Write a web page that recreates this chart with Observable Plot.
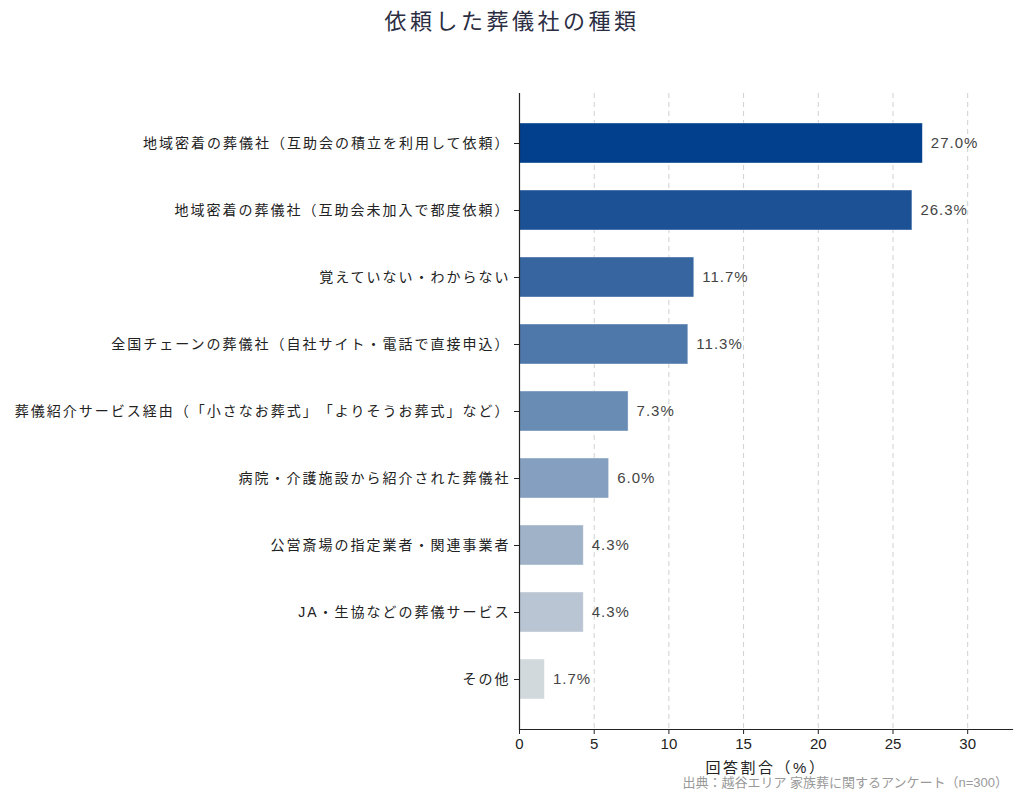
<!DOCTYPE html>
<html>
<head>
<meta charset="utf-8">
<script src="https://cdn.jsdelivr.net/npm/d3@7"></script>
<script src="https://cdn.jsdelivr.net/npm/@observablehq/plot@0.6"></script>
<style>
  body { margin: 0; background: #fff; font-family: "Liberation Sans", "Noto Sans CJK JP", sans-serif; text-spacing-trim: space-all; }
  #wrap { position: relative; width: 1024px; height: 800px; }
  #title { position: absolute; left: 0; width: 1024px; top: 3px; text-align: center; font-size: 22px; letter-spacing: 3.5px; color: #2b2d42; font-family: "Noto Sans CJK JP", sans-serif; }
  #chart { position: absolute; left: 0; top: 45px; }
  #caption { position: absolute; right: 16px; top: 772px; font-size: 13px; color: #999; }
  svg text { text-spacing-trim: space-all; }
  [aria-label="y-axis tick label"] text { letter-spacing: 2px; }
  [aria-label="x-axis label"] text { letter-spacing: 2.5px; }
  .vals text { letter-spacing: 1px; }
</style>
</head>
<body>
<div id="wrap">
  <div id="title">依頼した葬儀社の種類</div>
  <div id="chart"></div>
  <div id="caption">出典：越谷エリア 家族葬に関するアンケート（n=300）</div>
</div>
<script>
const categories = [
  "地域密着の葬儀社（互助会の積立を利用して依頼）",
  "地域密着の葬儀社（互助会未加入で都度依頼）",
  "覚えていない・わからない",
  "全国チェーンの葬儀社（自社サイト・電話で直接申込）",
  "葬儀紹介サービス経由（「小さなお葬式」「よりそうお葬式」など）",
  "病院・介護施設から紹介された葬儀社",
  "公営斎場の指定業者・関連事業者",
  "JA・生協などの葬儀サービス",
  "その他"
];
const values = [27.0, 26.3, 11.7, 11.3, 7.3, 6.0, 4.3, 4.3, 1.7];
const colors = ["#023f8c", "#1c5196", "#3665a0", "#4f78aa", "#698cb5", "#849fbf", "#9fb2c8", "#b9c5d2", "#d2d9dd"];
const xTicks = [0, 5, 10, 15, 20, 25, 30];

const data = categories.map((c, i) => ({cat: c, value: values[i], color: colors[i]}));

const chart = Plot.plot({
  width: 1024,
  height: 755,
  marginLeft: 519,
  marginRight: 12,
  marginTop: 48,
  marginBottom: 71,
  style: {fontFamily: "'Liberation Sans', 'Noto Sans CJK JP', sans-serif", fontSize: "14px", color: "#222", background: "#fff"},
  x: {domain: [0, 33], ticks: xTicks, label: "回答割合（%）", labelAnchor: "center", labelArrow: "none"},
  y: {domain: categories, padding: 0.4, label: null},
  color: {type: "identity"},
  marks: [
    Plot.gridX(xTicks.slice(1), {stroke: "#d0d0d0", strokeOpacity: 1, strokeDasharray: "5,4"}),
    Plot.barX(data, {x: "value", y: "cat", fill: "color", stroke: "#ffffff", strokeOpacity: 0.5, strokeWidth: 0.8}),
    Plot.text(data, {x: "value", y: "cat", text: d => d.value.toFixed(1) + "%", textAnchor: "start", dx: 8, fill: "#444", fontSize: 15, className: "vals"}),
    Plot.ruleX([0], {stroke: "#222", strokeWidth: 1.2}),
    Plot.frame({anchor: "bottom", stroke: "#222", strokeWidth: 1.2}),
    Plot.axisY({tickSize: 5, tickPadding: 4, fontSize: 14, fill: "#222", stroke: "#222"}),
    Plot.axisX({ticks: xTicks, tickSize: 5, tickPadding: 4, fontSize: 15, fill: "#222", stroke: "#222", label: "回答割合（%）", labelAnchor: "center", labelArrow: "none", labelOffset: 43})
  ]
});
document.getElementById("chart").appendChild(chart);
</script>
</body>
</html>
